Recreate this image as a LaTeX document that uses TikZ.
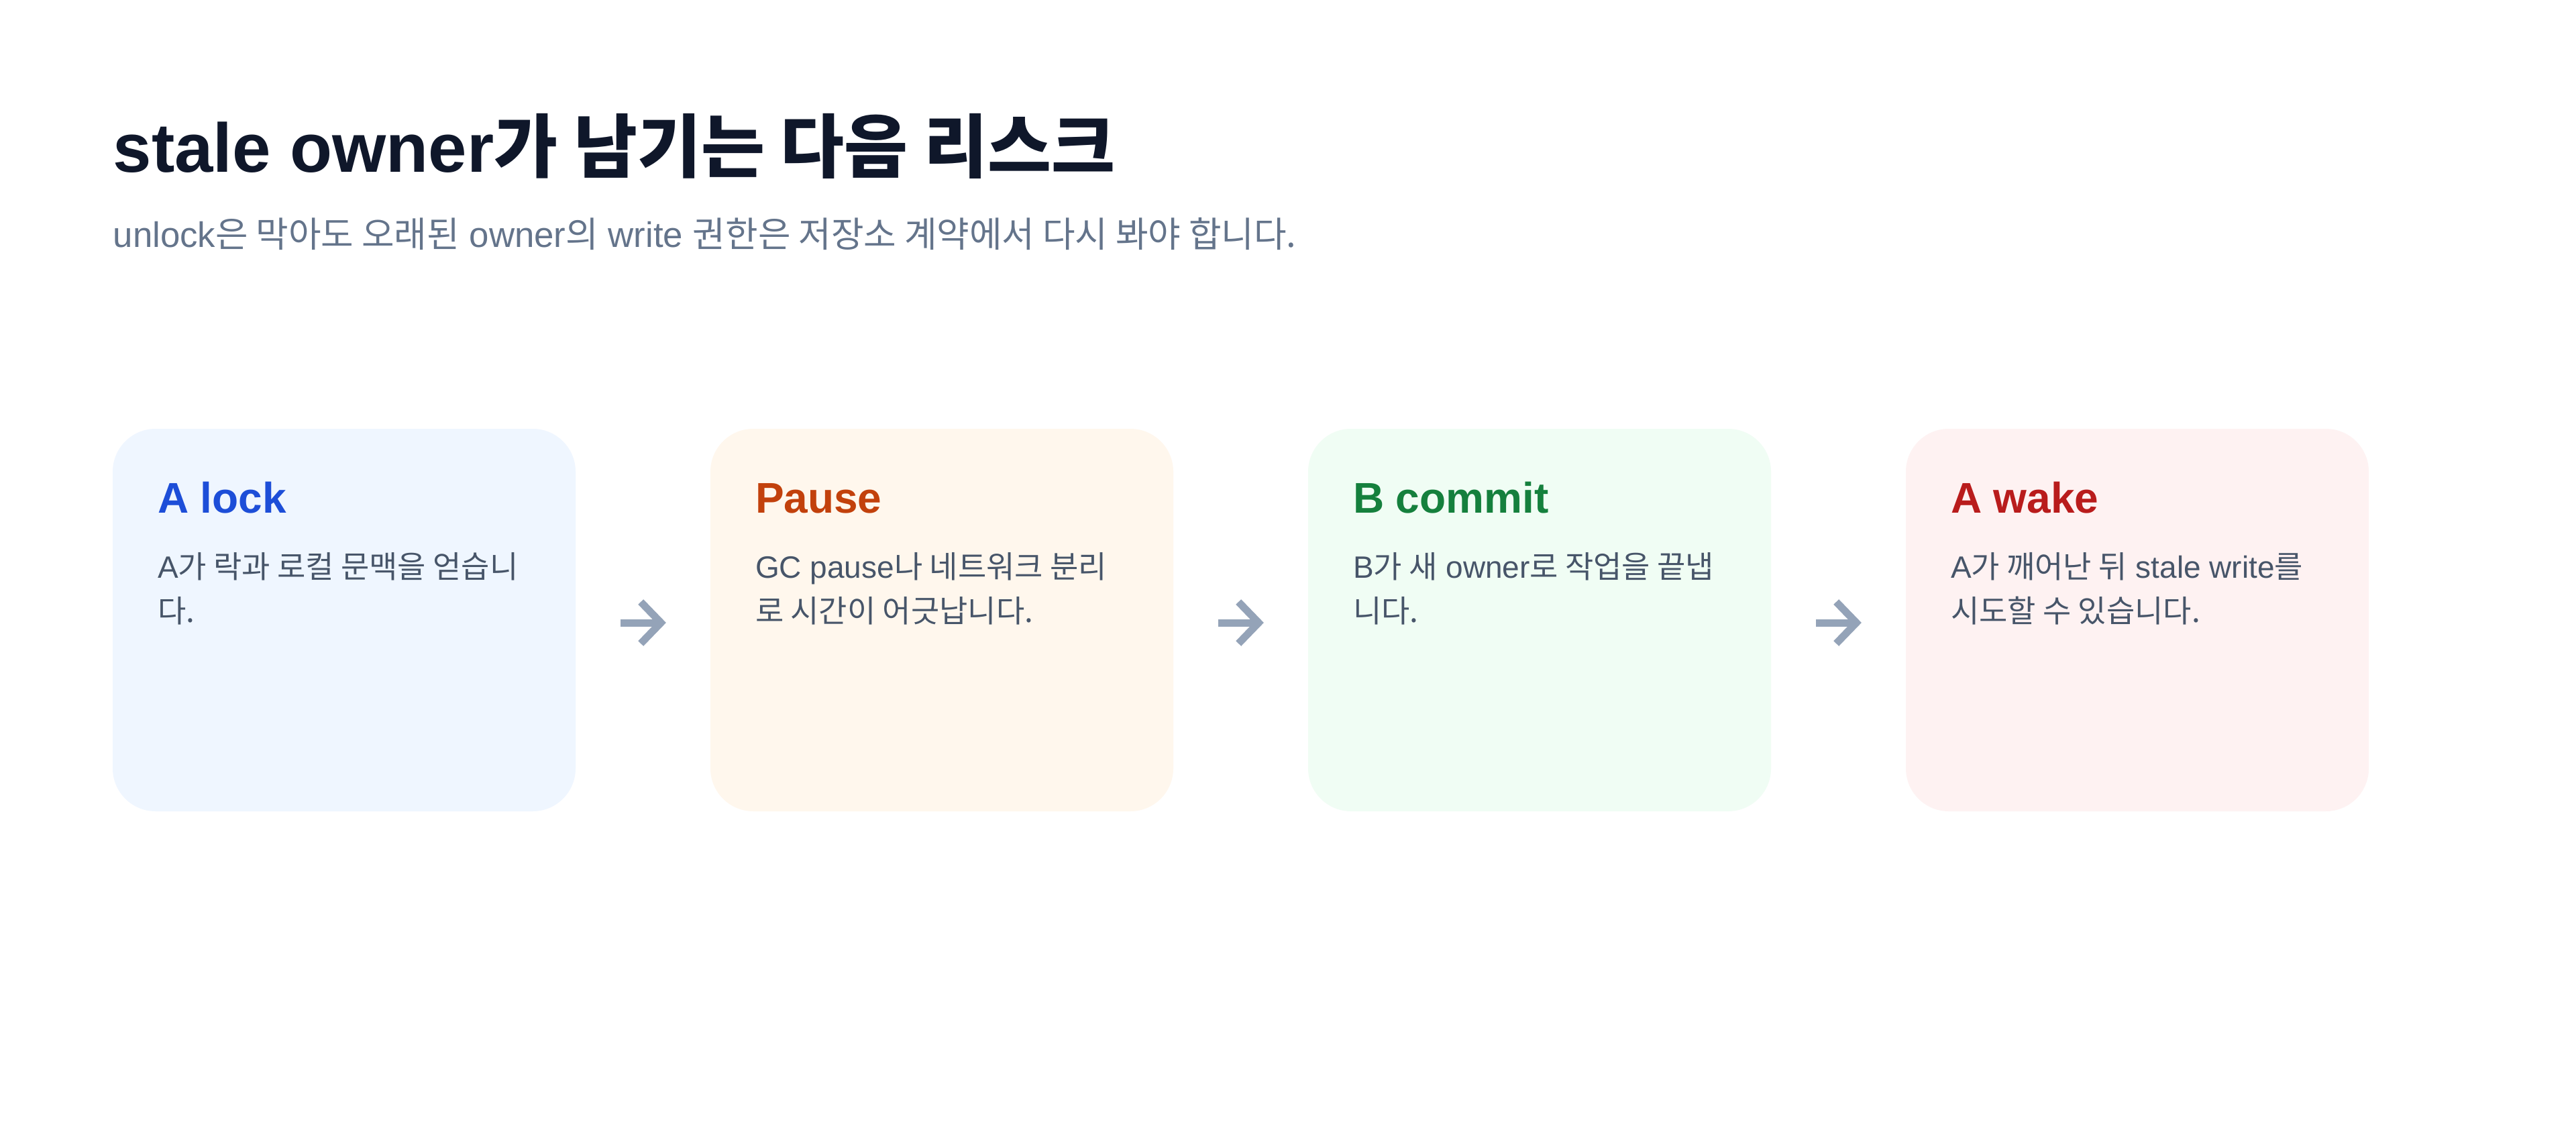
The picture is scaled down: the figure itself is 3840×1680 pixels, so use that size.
\documentclass[tikz,border=0pt]{standalone}
\usepackage{fontspec}
\setmainfont{Liberation Sans}
\newfontfamily\kr{Noto Sans CJK KR}
\newcommand\K[1]{{\kr #1}}
\usetikzlibrary{calc}
\definecolor{titlec}{HTML}{0F172A}
\definecolor{subc}{HTML}{64748B}
\definecolor{bodyc}{HTML}{475569}
\definecolor{arrowc}{HTML}{94A3B8}
\definecolor{bluebg}{HTML}{EFF6FF}\definecolor{bluefg}{HTML}{1D4ED8}
\definecolor{orangebg}{HTML}{FFF7ED}\definecolor{orangefg}{HTML}{C2410C}
\definecolor{greenbg}{HTML}{F0FDF4}\definecolor{greenfg}{HTML}{15803D}
\definecolor{redbg}{HTML}{FEF2F2}\definecolor{redfg}{HTML}{B91C1C}
\begin{document}
\begin{tikzpicture}[x=0.25pt,y=-0.25pt,
  card/.style={minimum width=172.5pt, minimum height=142.5pt, rounded corners=16pt, inner sep=0pt, draw=none},
  ctitle/.style={anchor=base west, inner sep=0pt, font=\fontsize{16}{19}\selectfont\bfseries},
  cbody/.style={anchor=base west, inner sep=0pt, text=bodyc, font=\fontsize{11.5}{16.5}\selectfont},
  flow/.style={draw=arrowc, line width=2.75pt},
  chevron/.style={draw=arrowc, line width=2.75pt, miter limit=4},
]
\fill[white] (0,0) rectangle (3840,1680);
\useasboundingbox (0,0) rectangle (3840,1680);

\node[anchor=base west, inner sep=0pt, text=titlec, font=\fontsize{25.8}{30}\selectfont\bfseries] (title) at (168,256) {stale owner\K{가 남기는 다음 리스크}};
\node[anchor=base west, inner sep=0pt, text=subc, font=\fontsize{13.2}{16}\selectfont] (subtitle) at (168,368) {unlock\K{은 막아도 오래된} owner\K{의} write \K{권한은 저장소 계약에서 다시 봐야 합니다.}};

\node[card, fill=bluebg] (c1) at (513,924) {};
\node[card, fill=orangebg] (c2) at (1404,924) {};
\node[card, fill=greenbg] (c3) at (2295,924) {};
\node[card, fill=redbg] (c4) at (3186,924) {};

\node[ctitle, text=bluefg] (t1) at ([xshift=16.75pt, yshift=-31.5pt]c1.north west) {A lock};
\node[ctitle, text=orangefg] (t2) at ([xshift=16.75pt, yshift=-31.5pt]c2.north west) {Pause};
\node[ctitle, text=greenfg] (t3) at ([xshift=16.75pt, yshift=-31.5pt]c3.north west) {B commit};
\node[ctitle, text=redfg] (t4) at ([xshift=16.75pt, yshift=-31.5pt]c4.north west) {A wake};

\node[cbody] (b1) at ([xshift=16.75pt, yshift=-55.75pt]c1.north west) {\begin{tabular}[t]{@{}l@{}}A\K{가 락과 로컬 문맥을 얻습니}\\\K{다.}\end{tabular}};
\node[cbody] (b2) at ([xshift=16.75pt, yshift=-55.75pt]c2.north west) {\begin{tabular}[t]{@{}l@{}}GC pause\K{나 네트워크 분리}\\\K{로 시간이 어긋납니다.}\end{tabular}};
\node[cbody] (b3) at ([xshift=16.75pt, yshift=-55.75pt]c3.north west) {\begin{tabular}[t]{@{}l@{}}B\K{가 새} owner\K{로 작업을 끝냅}\\\K{니다.}\end{tabular}};
\node[cbody] (b4) at ([xshift=16.75pt, yshift=-55.75pt]c4.north west) {\begin{tabular}[t]{@{}l@{}}A\K{가 깨어난 뒤} stale write\K{를}\\\K{시도할 수 있습니다.}\end{tabular}};

\foreach \a/\b in {c1/c2, c2/c3, c3/c4}{
  \coordinate (s\a) at ([xshift=16.5pt, yshift=-1pt]\a.east);
  \coordinate (v\a) at ([xshift=-18.25pt, yshift=-1pt]\b.west);
  \draw[flow] (s\a) -- ([xshift=-0.5pt]v\a);
  \draw[chevron] ([shift={(-7.5pt,7.75pt)}]v\a) -- (v\a) -- ([shift={(-7.5pt,-7.75pt)}]v\a);
}
\end{tikzpicture}
\end{document}
